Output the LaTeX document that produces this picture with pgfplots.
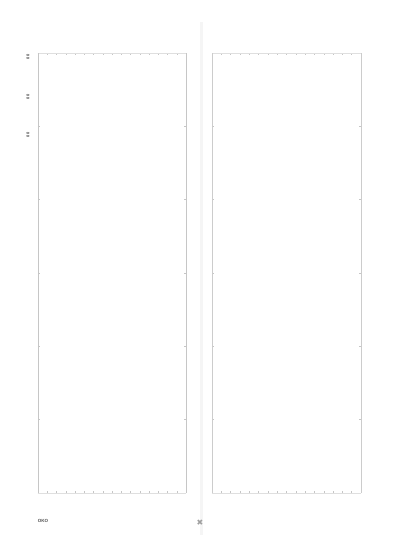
\documentclass[border=0pt]{standalone}
\usepackage{pgfplots}
\pgfplotsset{compat=1.18}
\usepackage{fontspec}
\setmainfont{Liberation Sans}
\newfontfamily\symfont{DejaVu Sans}

\pgfplotsset{
  emptypanel/.style={
    scale only axis,
    anchor=south west,
    width=148pt, height=440pt,
    xmin=0, xmax=16, ymin=0, ymax=6,
    xtick={0,...,16}, ytick={0,...,6},
    xticklabels={}, yticklabels={},
    tick align=inside,
    major tick length=2pt,
    tick style={gray!45, line width=0.4pt},
    axis line style={gray!30, line width=0.6pt},
    axis background/.style={fill=white},
  },
}

\begin{document}
\begin{tikzpicture}[x=1pt,y=1pt]
\useasboundingbox (0,0) rectangle (400,547);
\fill[white] (0,0) rectangle (400,547);
% separator between the two panels
\fill[gray!8] (199.5,12) rectangle (203,525);

\begin{axis}[emptypanel, at={(38pt,54pt)},
  separate axis lines,
  x axis line style={gray!25},
  y axis line style={gray!45, line width=0.9pt}]
\end{axis}

\begin{axis}[emptypanel, at={(212pt,54pt)}, width=149pt,
  separate axis lines,
  x axis line style={gray!25},
  y axis line style={gray!40, line width=0.8pt}]
\end{axis}

% small labels left of the first panel
\node[gray!55!black, font=\bfseries\fontsize{4}{4}\selectfont, rotate=90] at (28,490) {00};
\node[gray!55!black, font=\bfseries\fontsize{4}{4}\selectfont, rotate=90] at (28,450) {00};
\node[gray!55!black, font=\bfseries\fontsize{4}{4}\selectfont, rotate=90] at (28,412) {00};

\node[gray!65!black, font=\bfseries\fontsize{4.5}{5}\selectfont] at (43,26) {OKO};
\node[gray!75, font=\symfont\fontsize{8}{8}\selectfont] at (200,24) {✖};
\end{tikzpicture}
\end{document}
